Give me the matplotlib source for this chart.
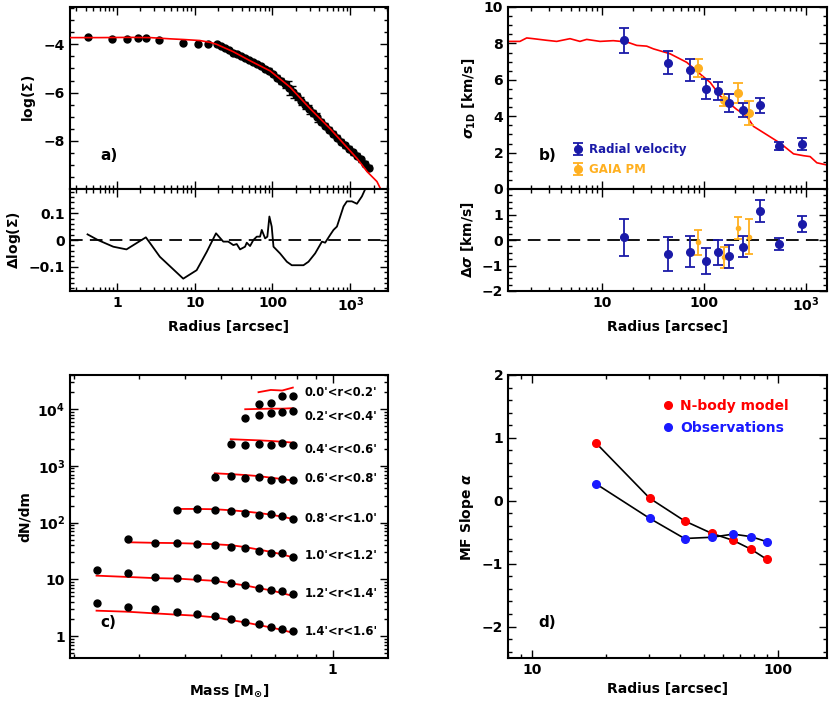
import numpy as np
import matplotlib
matplotlib.use("Agg")
import matplotlib.pyplot as plt
from matplotlib.ticker import (FixedLocator, LogLocator, MultipleLocator,
                               NullFormatter, FixedFormatter)

# ---- panel a: surface density profile ----
prof_r = [0.42, 0.86, 1.34, 1.86, 2.35, 3.45, 7.0, 10.9, 14.7,
          19.4, 21.8, 24.5, 27.6, 31.1, 35.0, 39.4, 44.4, 50.0, 56.3,
          63.4, 71.3, 80.3, 90.4, 102, 115, 129, 145, 164, 184,
          207, 233, 263, 296, 333, 375, 422, 475, 535, 602,
          678, 764, 859, 968, 1090, 1227, 1381, 1556, 1751]
prof_logsig = [-3.70, -3.77, -3.77, -3.73, -3.73, -3.81, -3.95, -4.00, -4.00,
               -4.00, -4.08, -4.16, -4.24, -4.34, -4.41, -4.48, -4.56, -4.65, -4.73,
               -4.82, -4.91, -5.01, -5.10, -5.25, -5.38, -5.52, -5.65, -5.82, -5.98,
               -6.15, -6.35, -6.53, -6.70, -6.86, -7.03, -7.20, -7.37, -7.54, -7.71,
               -7.87, -8.04, -8.18, -8.32, -8.47, -8.62, -8.77, -8.95, -9.12]
prof_err = [0.03, 0.03, 0.03, 0.03, 0.03, 0.03, 0.04, 0.04, 0.04,
            0.05, 0.05, 0.05, 0.05, 0.05, 0.05, 0.05, 0.06, 0.06, 0.08,
            0.06, 0.06, 0.07, 0.10, 0.08, 0.10, 0.12, 0.15, 0.30, 0.25,
            0.15, 0.15, 0.15, 0.18, 0.12, 0.20, 0.12, 0.10, 0.10, 0.10,
            0.10, 0.10, 0.10, 0.12, 0.10, 0.10, 0.10, 0.10, 0.10]

model_r = [0.25, 0.6, 1.5, 2.7, 4.8, 7.3, 11.6, 16.0, 19.2, 31.1, 51.5,
           93.1, 169, 305, 551, 811, 1217, 1644, 2198, 2426, 2600]
model_logsig = [-3.72, -3.72, -3.71, -3.72, -3.77, -3.80, -3.84, -3.92, -4.00,
                -4.30, -4.68, -5.10, -5.78, -6.67, -7.50, -8.10, -8.73,
                -9.28, -9.69, -9.97, -10.1]

resid_r = [0.42, 0.57, 0.90, 1.33, 2.36, 3.57, 7.13, 10.6, 14.3, 18.8, 23.3,
           27.0, 31.4, 34.7, 38.3, 44.4, 46.7, 51.5, 56.8, 62.8, 69.2, 72.8,
           80.4, 85.9, 91.2, 97.7, 103, 125, 153, 177, 250, 290, 353, 432,
           475, 551, 608, 673, 818, 904, 1047, 1216, 1409, 1556]
resid_val = [0.021, 0.0, -0.025, -0.035, 0.010, -0.0625, -0.144, -0.1125, -0.044,
             0.025, -0.006, -0.006, -0.019, -0.015, -0.035, -0.025, -0.010,
             -0.0225, 0.0, 0.0125, 0.0125, 0.0375, 0.006, 0.0125, 0.0875, 0.05,
             -0.025, -0.05, -0.081, -0.094, -0.094, -0.081, -0.05, -0.006,
             -0.010, 0.019, 0.0375, 0.05, 0.125, 0.144, 0.144, 0.135, 0.1625, 0.19]

# ---- panel b: velocity dispersion ----
vmod_r = [1.2, 1.57, 1.83, 2.12, 2.87, 3.6, 4.86, 6.08, 7.08, 9.56, 12.9,
          17.5, 21.9, 27.4, 31.9, 46.4, 67.6, 91.4, 115, 144, 209, 262,
          305, 412, 556, 752, 942, 1094, 1273, 1596]
vmod_sig = [8.11, 8.11, 8.30, 8.26, 8.17, 8.11, 8.26, 8.11, 8.22, 8.11, 8.15,
            8.08, 7.89, 7.85, 7.70, 7.43, 6.96, 6.32, 5.85, 5.11, 4.37, 4.00,
            3.44, 2.98, 2.52, 1.93, 1.83, 1.78, 1.44, 1.32]

rv_r = [16.4, 44.6, 72.9, 104, 136, 177, 243, 354, 544, 908]
rv_sig = [8.17, 6.93, 6.54, 5.48, 5.39, 4.71, 4.33, 4.59, 2.37, 2.48]
rv_err = [0.70, 0.63, 0.60, 0.55, 0.50, 0.50, 0.40, 0.42, 0.20, 0.33]
rv_dsig = [0.10, -0.55, -0.46, -0.82, -0.49, -0.64, -0.26, 1.13, -0.16, 0.63]
rv_derr = [0.72, 0.65, 0.60, 0.52, 0.50, 0.46, 0.40, 0.44, 0.22, 0.33]

pm_r = [88, 155, 217, 278]
pm_sig = [6.65, 4.89, 5.30, 4.19]
pm_err = [0.50, 0.35, 0.55, 0.65]
pm_dsig = [-0.09, -0.68, 0.47, 0.13]
pm_derr = [0.50, 0.40, 0.45, 0.68]

# ---- panel c: mass functions in radial bins ----
mass = [0.23, 0.28, 0.33, 0.38, 0.43, 0.48, 0.53, 0.58, 0.63, 0.68, 0.73, 0.78]
bin_labels = ["0.0'<r<0.2'", "0.2'<r<0.4'", "0.4'<r<0.6'", "0.6'<r<0.8'",
              "0.8'<r<1.0'", "1.0'<r<1.2'", "1.2'<r<1.4'", "1.4'<r<1.6'"]
label_y = [19300, 7290, 1910, 587, 116, 26.8, 5.7, 1.22]
mf_obs = [
    [12200, 13000, 17100, 17100],
    [7000, 7900, 8470, 8810, 9300],
    [2404, 2309, 2404, 2337, 2567, 2309],
    [645, 663, 620, 630, 571, 580, 564],
    [167, 176, 167, 158, 150, 135, 142, 131, 117],
    [50.7, 44.2, 44.2, 41.4, 39.8, 36.7, 35.2, 31.9, 28.7, 28.7, 25.0],
    [14.6, 12.8, 11.0, 10.5, 10.5, 9.7, 8.7, 7.9, 6.9, 6.5, 6.1, 5.4],
    [3.77, 3.29, 2.96, 2.62, 2.41, 2.25, 1.97, 1.77, 1.61, 1.46, 1.31, 1.22],
]
mf_model = [
    [19900, 21800, 21300, 24000],
    [9960, 10100, 10200, 10200, 10400],
    [2950, 2880, 2820, 2750, 2660, 2570],
    [740, 715, 690, 660, 620, 585, 550],
    [174, 174, 172, 165, 157, 148, 138, 127, 116],
    [45, 44, 43.5, 42.5, 41.5, 40, 37, 33.5, 30.5, 27.5, 24.4],
    [11.6, 11.0, 10.5, 10.3, 9.8, 9.4, 8.5, 7.8, 7.0, 6.4, 5.7, 5.1],
    [2.80, 2.68, 2.51, 2.38, 2.28, 2.14, 1.91, 1.74, 1.56, 1.42, 1.28, 1.14],
]

# ---- panel d: mass function slope ----
slope_r = [18.2, 30.1, 41.7, 53.9, 65.7, 77.6, 89.9]
slope_nbody = [0.92, 0.04, -0.32, -0.52, -0.63, -0.77, -0.93]
slope_obs = [0.27, -0.28, -0.60, -0.58, -0.53, -0.57, -0.65]

RED = "#ff0000"
DBLUE = "#1a1aa8"
ORANGE = "#ffb020"
BLUE = "#1a1aff"

plt.rcParams.update({
    "font.family": "DejaVu Sans",
    "font.weight": "bold",
    "axes.labelweight": "bold",
    "font.size": 10,
    "mathtext.fontset": "custom",
    "mathtext.rm": "DejaVu Sans:bold",
    "mathtext.it": "DejaVu Sans:italic:bold",
    "mathtext.bf": "DejaVu Sans:bold",
    "axes.linewidth": 1.5,
})


def style(ax):
    ax.tick_params(which="both", direction="in", top=True, right=True, width=1.0)
    ax.tick_params(which="major", length=6, labelsize=10)
    ax.tick_params(which="minor", length=3)


def log_x(ax, labels):
    ax.set_xscale("log")
    ax.xaxis.set_major_locator(FixedLocator(list(labels.keys())))
    ax.xaxis.set_major_formatter(FixedFormatter(list(labels.values())))
    ax.xaxis.set_minor_locator(LogLocator(base=10, subs=np.arange(2, 10), numticks=20))
    ax.xaxis.set_minor_formatter(NullFormatter())


W, H = 830, 701


def box(l, r, t, b):
    return [l / W, 1 - b / H, (r - l) / W, (b - t) / H]


fig = plt.figure(figsize=(8.3, 7.01), dpi=100)

rad_ticks = {1: "1", 10: "10", 100: "100", 1000: "$10^3$"}

# panel a top
ax = fig.add_axes(box(70, 388, 7, 189))
ax.errorbar(prof_r, prof_logsig, yerr=prof_err, fmt="o", color="k", ms=5,
            elinewidth=1, capsize=2.5, zorder=2)
ax.plot(model_r, model_logsig, color=RED, lw=1.2, zorder=3)
log_x(ax, rad_ticks)
ax.set_xticklabels([])
ax.set_xlim(0.25, 3050)
ax.set_ylim(-10, -2.45)
ax.yaxis.set_major_locator(FixedLocator([-8, -6, -4]))
ax.yaxis.set_minor_locator(MultipleLocator(0.5))
ax.set_ylabel(r"log($\Sigma$)")
ax.text(0.095, 0.16, "a)", transform=ax.transAxes, fontsize=11)
style(ax)

# panel a bottom
ax = fig.add_axes(box(70, 388, 189, 291))
ax.plot(resid_r, resid_val, color="k", lw=1.3)
ax.axhline(0, color="k", lw=1.3, dashes=(7, 4))
log_x(ax, rad_ticks)
ax.set_xlim(0.25, 3050)
ax.set_ylim(-0.19, 0.19)
ax.yaxis.set_major_locator(FixedLocator([-0.1, 0, 0.1]))
ax.yaxis.set_major_formatter(FixedFormatter(["\u22120.1", "0", "0.1"]))
ax.yaxis.set_minor_locator(MultipleLocator(0.02))
ax.set_ylabel(r"$\Delta$log($\Sigma$)")
ax.set_xlabel("Radius [arcsec]")
style(ax)

# panel b top
ax = fig.add_axes(box(508, 827, 7, 189))
ax.plot(vmod_r, vmod_sig, color=RED, lw=1.2, zorder=1)
h1 = ax.errorbar(rv_r, rv_sig, yerr=rv_err, fmt="o", color=DBLUE, ms=5.5,
                 elinewidth=1.3, capsize=3.5, capthick=1.3, zorder=3, label="Radial velocity")
h2 = ax.errorbar(pm_r, pm_sig, yerr=pm_err, fmt="o", color=ORANGE, ms=5.5,
                 elinewidth=1.3, capsize=3.5, capthick=1.3, zorder=2, label="GAIA PM")
log_x(ax, rad_ticks)
ax.set_xticklabels([])
ax.set_xlim(1.2, 1600)
ax.set_ylim(0, 10)
ax.yaxis.set_major_locator(MultipleLocator(2))
ax.yaxis.set_minor_locator(MultipleLocator(0.5))
ax.set_ylabel(r"$\sigma_{\rm 1D}$ [km/s]")
leg = ax.legend(handles=[h1, h2], loc="lower left", bbox_to_anchor=(0.19, 0.045),
                frameon=False, handlelength=0.8, handletextpad=0.5,
                labelspacing=0.6, fontsize=8.5, borderaxespad=0)
for t, c in zip(leg.get_texts(), [DBLUE, ORANGE]):
    t.set_color(c)
ax.text(0.095, 0.16, "b)", transform=ax.transAxes, fontsize=11)
style(ax)

# panel b bottom
ax = fig.add_axes(box(508, 827, 189, 291))
ax.axhline(0, color="k", lw=1.3, dashes=(7, 4), zorder=1)
ax.errorbar(rv_r, rv_dsig, yerr=rv_derr, fmt="o", color=DBLUE, ms=5.5,
            elinewidth=1.3, capsize=3.5, capthick=1.3, zorder=3)
ax.errorbar(pm_r, pm_dsig, yerr=pm_derr, fmt="o", color=ORANGE, ms=3,
            elinewidth=1.3, capsize=3, capthick=1.3, zorder=2)
log_x(ax, rad_ticks)
ax.set_xlim(1.2, 1600)
ax.set_ylim(-2, 2)
ax.yaxis.set_major_locator(FixedLocator([-2, -1, 0, 1]))
ax.yaxis.set_minor_locator(MultipleLocator(0.25))
ax.set_ylabel(r"$\Delta\sigma$ [km/s]")
ax.set_xlabel("Radius [arcsec]")
style(ax)

# panel c
ax = fig.add_axes(box(70, 388, 375, 658))
for obs, mod, lab, ly in zip(mf_obs, mf_model, bin_labels, label_y):
    m = mass[len(mass) - len(obs):]
    ax.plot(m, mod, color=RED, lw=1.3, zorder=1)
    ax.plot(m, obs, "o", color="k", ms=5, zorder=2)
    ax.text(0.84, ly, lab, fontsize=8.3, va="center", ha="left")
ax.set_yscale("log")
log_x(ax, {1: "1"})
ax.set_xlim(0.195, 1.41)
ax.set_ylim(0.41, 4.0e4)
ax.yaxis.set_major_locator(FixedLocator([1, 10, 100, 1e3, 1e4]))
ax.yaxis.set_major_formatter(FixedFormatter(["1", "10", "$10^2$", "$10^3$", "$10^4$"]))
ax.yaxis.set_minor_locator(LogLocator(base=10, subs=np.arange(2, 10), numticks=20))
ax.yaxis.set_minor_formatter(NullFormatter())
ax.set_ylabel("dN/dm")
ax.set_xlabel(r"Mass [M$_{\odot}$]")
ax.text(0.095, 0.11, "c)", transform=ax.transAxes, fontsize=11)
style(ax)

# panel d
ax = fig.add_axes(box(508, 827, 375, 658))
ax.plot(slope_r, slope_nbody, color="k", lw=1.2, zorder=1)
ax.plot(slope_r, slope_obs, color="k", lw=1.2, zorder=1)
ax.plot(slope_r, slope_nbody, "o", color=RED, ms=5.5, zorder=2, label="N-body model")
ax.plot(slope_r, slope_obs, "o", color=BLUE, ms=5.5, zorder=3, label="Observations")
log_x(ax, {10: "10", 100: "100"})
ax.set_xlim(8, 158)
ax.set_ylim(-2.5, 2)
ax.yaxis.set_major_locator(FixedLocator([-2, -1, 0, 1, 2]))
ax.yaxis.set_major_formatter(FixedFormatter(["\u22122", "\u22121", "0", "1", "2"]))
ax.yaxis.set_minor_locator(MultipleLocator(0.2))
ax.set_ylabel(r"MF Slope $\alpha$")
ax.set_xlabel("Radius [arcsec]")
leg = ax.legend(loc="upper left", bbox_to_anchor=(0.47, 0.935), frameon=False,
                handlelength=0.6, handletextpad=0.6, labelspacing=0.55,
                fontsize=10, borderaxespad=0)
for t, c in zip(leg.get_texts(), [RED, BLUE]):
    t.set_color(c)
ax.text(0.095, 0.11, "d)", transform=ax.transAxes, fontsize=11)
style(ax)

fig.savefig("out.png", dpi=100)
